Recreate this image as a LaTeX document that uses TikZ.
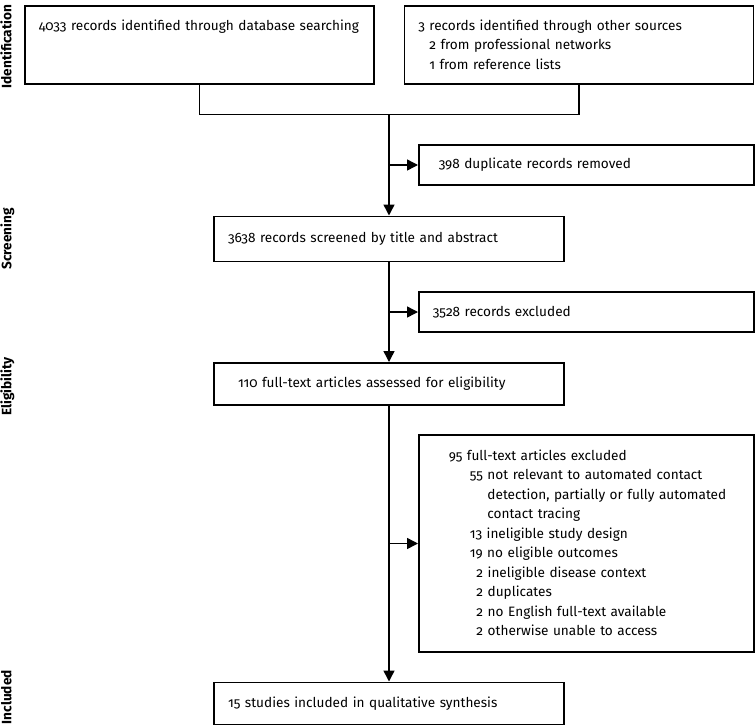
\documentclass[tikz,border=0pt]{standalone}
\usepackage{fontspec}
\setmainfont{Fira Sans}[Numbers=OldStyle]
\usetikzlibrary{arrows.meta,positioning}

\begin{document}
\begin{tikzpicture}[
  x=1pt, y=1pt,
  font=\fontsize{13.6}{19.5}\selectfont,
  box/.style={rectangle, draw, line width=1.5pt, inner xsep=14pt, align=left},
  topbox/.style={box, text width=321pt, minimum height=78pt},
  mainbox/.style={box, text width=322pt, minimum height=42pt},
  sidebox/.style={box, text width=307pt, minimum height=40pt},
  stage/.style={rotate=90, inner sep=0pt, text height=10pt, text depth=3pt, font=\fontsize{13.6}{15}\selectfont\bfseries},
  arrow/.style={-{Triangle[length=11pt,width=11pt]}, line width=1.5pt}
]
\useasboundingbox (0,0) rectangle (755,-726);

% identification
\node[topbox, anchor=north west] (db) at (24,-5) {4033 records identified through database searching\\~\\~};
\node[topbox, right=29pt of db] (other) {3 records identified through other sources\\
  \hspace*{11pt}2 from professional networks\\
  \hspace*{11pt}1 from reference lists};

\path (db.south) -- coordinate[midway] (mid) (other.south);
\coordinate[below=30pt of mid] (join);

% main column
\node[mainbox, minimum height=45pt, below=101pt of join] (screen) {3638 records screened by title and abstract};
\node[mainbox, below=100pt of screen] (elig) {\hspace*{10pt}110 full-text articles assessed for eligibility};
\node[mainbox, below=276pt of elig] (incl) {15 studies included in qualitative synthesis};

\path (join) -- coordinate[midway] (m1) (screen.north);
\path (screen.south) -- coordinate[midway] (m2) (elig.north);
\path (elig.south) -- coordinate[midway] (m3) (incl.north);

% exclusions
\node[sidebox, inner xsep=20pt, text width=295pt, right=29pt of m1] (dup) {398 duplicate records removed};
\node[sidebox, right=29pt of m2] (excl) {3528 records excluded};
\node[sidebox, minimum height=217pt, right=29pt of m3] (fulltext) {\hspace*{16pt}95 full-text articles excluded\\
  \hspace*{37pt}55 not relevant to automated contact\\
  \hspace*{37pt}\phantom{55 }detection, partially or fully automated\\
  \hspace*{37pt}\phantom{55 }contact tracing\\
  \hspace*{37pt}13 ineligible study design\\
  \hspace*{37pt}19 no eligible outcomes\\
  \hspace*{37pt}\phantom{5}2 ineligible disease context\\
  \hspace*{37pt}\phantom{5}2 duplicates\\
  \hspace*{37pt}\phantom{5}2 no English full-text available\\
  \hspace*{37pt}\phantom{5}2 otherwise unable to access};

% connectors
\draw[line width=1.5pt] (db.south) |- (join) -| (other.south);
\draw[arrow] (join) -- (screen);
\draw[arrow] (screen) -- (elig);
\draw[arrow] (elig) -- (incl);
\draw[arrow] (m1) -- (dup);
\draw[arrow] (m2) -- (excl);
\draw[arrow] (m3) -- (fulltext);

% stage labels
\coordinate (lanes) at (8,0);
\node[stage] (idlab) at ([yshift=-2pt]lanes |- db) {Identification};
\node[stage] (scrlab) at (lanes |- screen) {Screening};
\node[stage] (elilab) at ([yshift=-3pt]lanes |- elig) {Eligibility};
\node[stage] (inclab) at ([yshift=6pt]lanes |- incl) {Included};

\end{tikzpicture}
\end{document}
